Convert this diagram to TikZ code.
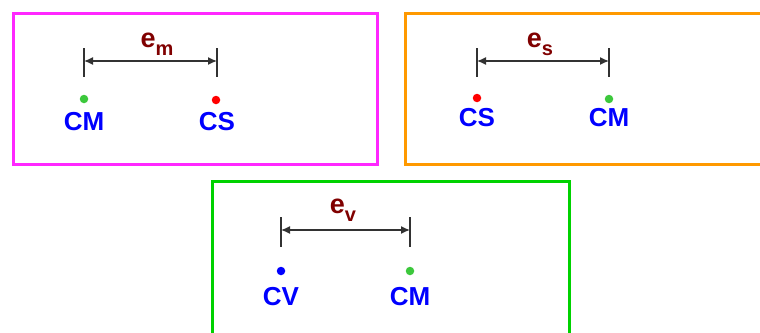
\documentclass[tikz,border=0pt]{standalone}
\usepackage{fontspec}
\setmainfont{Liberation Sans}
\usetikzlibrary{arrows.meta}
\definecolor{mag}{RGB}{255,40,255}
\definecolor{org}{RGB}{255,153,0}
\definecolor{grn}{RGB}{0,210,0}
\definecolor{dotg}{RGB}{60,200,60}
\definecolor{lblue}{RGB}{0,0,255}
\definecolor{maroon}{RGB}{128,0,0}
\definecolor{dimg}{RGB}{50,50,50}
\newcommand{\esub}[1]{e\raisebox{-8pt}{\fontsize{20}{22}\selectfont #1}}
\tikzset{
  frame/.style={line width=3pt},
  lbl/.style={text=lblue,font=\bfseries\fontsize{26}{28}\selectfont,inner sep=0pt},
  elbl/.style={text=maroon,font=\bfseries\fontsize{27}{29}\selectfont,inner sep=0pt},
  tick/.style={draw=dimg,line width=1.1pt},
  dim/.style={draw=dimg,line width=1.4pt,{Latex[length=9pt,width=8pt]}-{Latex[length=9pt,width=8pt]}},
  pt/.style={circle,inner sep=0pt,minimum size=8.5pt}
}
\begin{document}
\begin{tikzpicture}[x=1pt,y=-1pt]
\useasboundingbox (0,0) rectangle (760,332);
% frames
\draw[frame,mag] (13,13) rectangle (377,164);
\draw[frame,org] (765,13) -- (405,13) -- (405,164) -- (765,164);
\draw[frame,grn] (212,340) -- (212,181) -- (569,181) -- (569,340);
% box 1
\coordinate (a1t) at (84,48); \coordinate (a1b) at (84,77);
\coordinate (b1t) at (217,48); \coordinate (b1b) at (217,77);
\draw[tick] (a1t) -- (a1b); \draw[tick] (b1t) -- (b1b);
\coordinate (a1) at (84,61); \coordinate (b1) at (217,61);
\draw[dim] (a1) -- (b1);
\node[elbl] (e1) at (157,44) {\esub{m}};
\node[pt,fill=dotg] (p1) at (84,99) {};
\node[pt,fill=red] (p2) at (216,100) {};
\node[lbl] (l1) at (84,122) {CM};
\node[lbl] (l2) at (217,122) {CS};
% box 2
\coordinate (a2t) at (477,48); \coordinate (a2b) at (477,77);
\coordinate (b2t) at (609,48); \coordinate (b2b) at (609,77);
\draw[tick] (a2t) -- (a2b); \draw[tick] (b2t) -- (b2b);
\coordinate (a2) at (477,61); \coordinate (b2) at (609,61);
\draw[dim] (a2) -- (b2);
\node[elbl] (e2) at (540,44) {\esub{s}};
\node[pt,fill=red] (p3) at (477,98) {};
\node[pt,fill=dotg] (p4) at (609,99) {};
\node[lbl] (l3) at (477,118) {CS};
\node[lbl] (l4) at (609,118) {CM};
% box 3
\coordinate (a3t) at (281,217); \coordinate (a3b) at (281,247);
\coordinate (b3t) at (410,217); \coordinate (b3b) at (410,247);
\draw[tick] (a3t) -- (a3b); \draw[tick] (b3t) -- (b3b);
\coordinate (a3) at (281,230); \coordinate (b3) at (410,230);
\draw[dim] (a3) -- (b3);
\node[elbl] (e3) at (343,210) {\esub{v}};
\node[pt,fill=lblue] (p5) at (281,271) {};
\node[pt,fill=dotg] (p6) at (410,271) {};
\node[lbl] (l5) at (281,297) {CV};
\node[lbl] (l6) at (410,297) {CM};
\end{tikzpicture}
\end{document}
